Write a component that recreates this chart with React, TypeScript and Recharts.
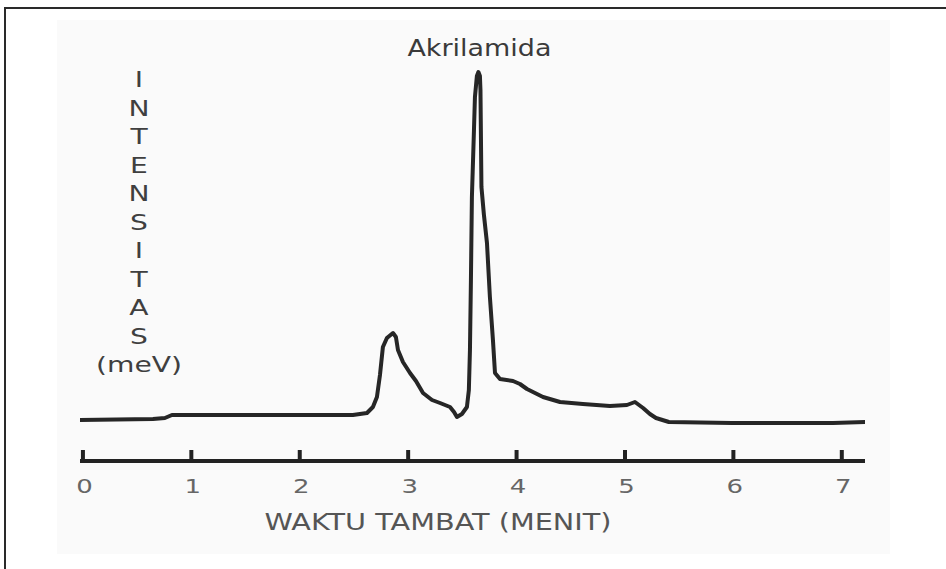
import { LineChart, Line, XAxis, YAxis, ReferenceDot, Customized } from "recharts";

// retention time (minutes) and detector intensity
const TIME = [
  -0.027, 0.646, 0.756, 0.821, 2.49, 2.62, 2.675, 2.712, 2.74, 2.767,
  2.804, 2.86, 2.887, 2.906, 2.952, 3.017, 3.072, 3.137, 3.22, 3.294,
  3.386, 3.423, 3.45, 3.496, 3.542, 3.56, 3.57, 3.579, 3.588, 3.607,
  3.616, 3.634, 3.648, 3.662, 3.667, 3.676, 3.699, 3.727, 3.754, 3.782,
  3.801, 3.847, 3.967, 4.031, 4.096, 4.244, 4.401, 4.612, 4.861, 5.018,
  5.092, 5.167, 5.23, 5.286, 5.405, 5.987, 6.919, 7.214,
];
const INTENSITY = [
  41, 42, 43, 46, 46, 48, 54, 64, 86, 114,
  123, 128, 124, 111, 99, 88, 80, 68, 61, 58,
  54, 49, 44, 47, 54, 71, 111, 181, 264, 331,
  364, 385, 389, 385, 371, 274, 246, 218, 164, 121,
  88, 82, 80, 77, 72, 64, 59, 57, 55, 56,
  59, 53, 47, 43, 39, 38, 38, 39,
];
const X_TICKS = [0, 1, 2, 3, 4, 5, 6, 7];
const Y_LETTERS = ["I", "N", "T", "E", "N", "S", "I", "T", "A", "S", "(meV)"];
const PEAK = { t: 3.648, v: 389, name: "Akrilamida" };
const X_TITLE = "WAKTU TAMBAT (MENIT)";

const data = TIME.map((t, i) => ({ t, v: INTENSITY[i] }));

const FONT = "DejaVu Sans, Verdana, sans-serif";

function TimeTick(props: any) {
  const { x, y, payload } = props;
  return (
    <g>
      <line x1={x} x2={x} y1={y - 11} y2={y} stroke="#222" strokeWidth={4} />
      <g transform={`translate(${x + 1.5}, ${y + 32}) scale(1.3, 1)`}>
        <text x={0} y={0} textAnchor="middle" fontSize={20} fill="#666" fontFamily={FONT}>
          {payload.value}
        </text>
      </g>
    </g>
  );
}

function PeakLabel(props: any) {
  const vb = props.viewBox || {};
  const cx = (vb.x ?? 0) + (vb.width ?? 0) / 2;
  const cy = vb.y ?? 0;
  return (
    <text
      x={cx + 1}
      y={cy - 15}
      textAnchor="middle"
      fontSize={23}
      fill="#3a3a3a"
      fontFamily={FONT}
      textLength={144}
      lengthAdjust="spacingAndGlyphs"
    >
      {PEAK.name}
    </text>
  );
}

function Annotations() {
  return (
    <g fontFamily={FONT}>
      {Y_LETTERS.map((s, i) => (
        <g key={i} transform={`translate(139, ${87 + i * 28.5}) scale(1.28, 1)`}>
          <text x={0} y={0} textAnchor="middle" fontSize={22} fill="#3f3f3f">
            {s}
          </text>
        </g>
      ))}
      <text
        x={438}
        y={530}
        textAnchor="middle"
        fontSize={23}
        fill="#555"
        textLength={347}
        lengthAdjust="spacingAndGlyphs"
      >
        {X_TITLE}
      </text>
    </g>
  );
}

export default function App() {
  return (
    <div
      style={{
        position: "absolute",
        left: 0,
        top: 0,
        width: 946,
        height: 569,
        background: "#fff",
        overflow: "hidden",
      }}
    >
      <div style={{ position: "absolute", left: 57, top: 20, width: 833, height: 534, background: "#fafafa" }} />
      <div style={{ position: "absolute", left: 4, top: 7, width: 942, height: 2, background: "#2a2a2a" }} />
      <div style={{ position: "absolute", left: 4, top: 7, width: 2, height: 562, background: "#2a2a2a" }} />
      <div style={{ position: "absolute", left: 0, top: 0 }}>
        <LineChart
          width={946}
          height={569}
          data={data}
          margin={{ top: 61, right: 81, bottom: 48, left: 80 }}
        >
          <XAxis
            dataKey="t"
            type="number"
            domain={[-0.027, 7.214]}
            ticks={X_TICKS}
            interval={0}
            height={60}
            tickSize={0}
            tickMargin={0}
            tickLine={false}
            tick={<TimeTick />}
            axisLine={{ stroke: "#222", strokeWidth: 4 }}
            allowDataOverflow
          />
          <YAxis type="number" domain={[0, 400]} hide />
          <Line
            type="linear"
            dataKey="v"
            stroke="#262626"
            strokeWidth={4}
            strokeLinejoin="round"
            strokeLinecap="round"
            dot={false}
            activeDot={false}
            isAnimationActive={false}
          />
          <ReferenceDot
            x={PEAK.t}
            y={PEAK.v}
            r={1}
            fill="none"
            stroke="none"
            label={<PeakLabel />}
          />
          <Customized component={Annotations} />
        </LineChart>
      </div>
    </div>
  );
}
